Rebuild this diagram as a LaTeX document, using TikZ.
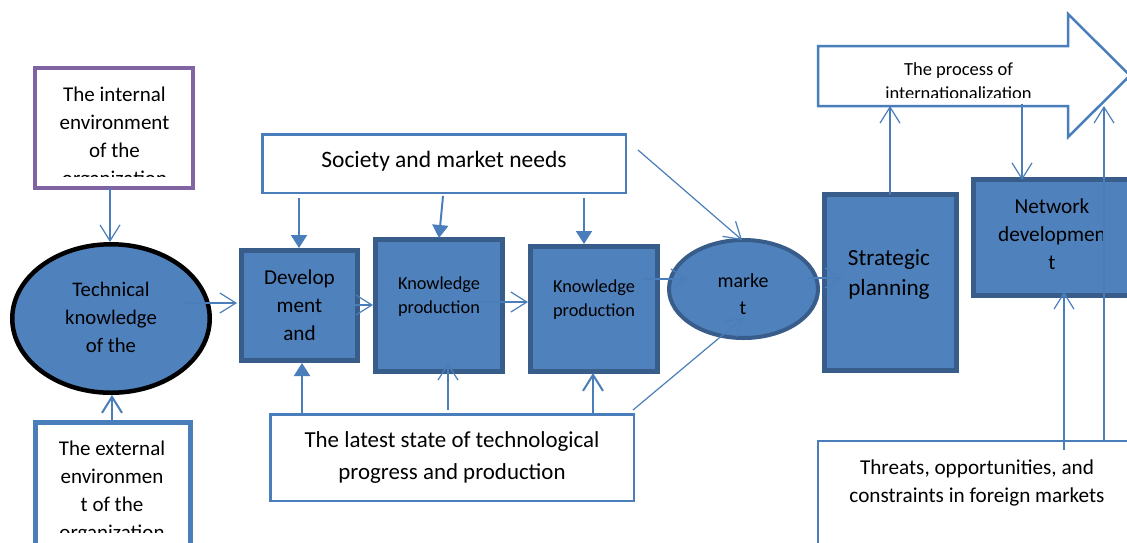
\documentclass[tikz,border=0pt]{standalone}
\usepackage{fontspec}
\setmainfont{Carlito}
\usetikzlibrary{arrows.meta,shapes.geometric,calc}
\definecolor{fillblue}{HTML}{4F81BD}
\definecolor{darkblue}{HTML}{385D8A}
\definecolor{lineblue}{HTML}{4A7EBB}
\definecolor{mypurple}{HTML}{8064A2}
\begin{document}
\begin{tikzpicture}[x=1pt,y=-1pt,
  solidbox/.style={draw=darkblue,line width=5pt,fill=fillblue,inner sep=0,outer sep=0},
  whitebox/.style={draw=lineblue,line width=2.5pt,fill=white,inner sep=0,outer sep=0},
  lbl/.style={inner sep=0,align=center,text=black},
  conn/.style={draw=lineblue,line width=1.2pt},
  openhead/.style={conn,-{Straight Barb[length=16pt,width=20pt]}},
  openheadthick/.style={draw=lineblue,line width=2pt,-{Straight Barb[length=16pt,width=20pt]}},
  filledhead/.style={draw=lineblue,line width=2pt,-{Triangle[length=13pt,width=16pt]}},
]
\useasboundingbox (0,0) rectangle (1127,542);
\fill[white] (0,0) rectangle (1127,542);

% left column
\node[draw=mypurple,line width=4pt,fill=white,minimum width=158pt,minimum height=120pt,inner sep=0,outer sep=0] (internal) at (114,128) {};
\begin{scope}
\clip (38,70) rectangle (190,176);
\node[lbl,font=\fontsize{21}{28}\selectfont] (internaltext) at (114.5,138) {The internal\\environment\\of the\\organization};
\end{scope}

\node[ellipse,draw=black,line width=4.5pt,fill=fillblue,minimum width=197.5pt,minimum height=148.5pt,inner sep=0,outer sep=0] (tech) at (111,318.5) {};
\node[lbl,font=\fontsize{20.7}{28}\selectfont] (techtext) at (111,317) {Technical\\knowledge\\of the};

\node[draw=lineblue,line width=5pt,fill=white,minimum width=155pt,minimum height=137.5pt,inner sep=0,outer sep=0] (external) at (113,491.25) {};
\begin{scope}
\clip (38,425) rectangle (188,532);
\node[lbl,font=\fontsize{21}{28}\selectfont] (externaltext) at (112,492) {The external\\environmen\\t of the\\organization};
\end{scope}

% middle
\node[whitebox,minimum width=363.5pt,minimum height=58.5pt] (society) at (444,163.5) {};
\node[lbl,font=\fontsize{23.5}{30}\selectfont] (societytext) at (444,161) {Society and market needs};

\node[whitebox,minimum width=363.5pt,minimum height=86.5pt] (latest) at (452,457.5) {};
\node[lbl,font=\fontsize{22.9}{32}\selectfont] (latesttext) at (452,458) {The latest state of technological\\progress and production};

\node[solidbox,minimum width=116pt,minimum height=110pt] (dev) at (299.5,305.5) {};
\node[lbl,font=\fontsize{21.2}{28}\selectfont] (devtext) at (299.5,305) {Develop\\ment\\and};

\node[solidbox,minimum width=127pt,minimum height=132pt] (k1) at (439,305.5) {};
\node[lbl,font=\fontsize{18.3}{24}\selectfont] (k1text) at (439,297) {Knowledge\\production};

\node[solidbox,minimum width=127pt,minimum height=125pt] (k2) at (594,309) {};
\node[lbl,font=\fontsize{18.3}{24}\selectfont] (k2text) at (594,299.5) {Knowledge\\production};

\node[ellipse,draw=darkblue,line width=4pt,fill=fillblue,minimum width=149pt,minimum height=98pt,inner sep=0,outer sep=0] (market) at (743.5,289) {};
\node[lbl,font=\fontsize{20}{27}\selectfont] (markettext) at (743,294) {marke\\t};

% right
\node[solidbox,minimum width=132pt,minimum height=176pt] (strat) at (890.5,282.5) {};
\node[lbl,font=\fontsize{23.2}{30}\selectfont] (strattext) at (889,275) {Strategic\\planning};

\node[solidbox,minimum width=166.5pt,minimum height=116pt] (net) at (1056.75,237.5) {};
\node[lbl,font=\fontsize{21.3}{28}\selectfont] (nettext) at (1052,234) {Network\\developmen\\t};

\draw[draw=lineblue,line width=2.5pt,fill=white,line join=miter]
  (818,46) -- (1068,46) -- (1068,14) -- (1130,75.5) -- (1068,137) -- (1068,106) -- (818,106) -- cycle;
\begin{scope}
\clip (822,50) rectangle (1066,97);
\node[lbl,font=\fontsize{18.5}{24}\selectfont] (proctext) at (958.5,81) {The process of\\internationalization};
\end{scope}

\node[whitebox,minimum width=321.75pt,minimum height=118.75pt] (threats) at (979,500.6) {};
\node[lbl,font=\fontsize{21.2}{28}\selectfont] (threatstext) at (977,483) {Threats, opportunities, and\\constraints in foreign markets};

% connectors
\draw[openhead] (110,0 |- internal.south) -- (110,242);
\draw[openheadthick] (112,0 |- external.north) -- (112,395);
\coordinate (techout) at (185,303);
\draw[openhead] (techout) -- (237,303);
\coordinate (devout) at (355,305);
\draw[openhead] (devout) -- (373,305);
\coordinate (k1out) at (475,302);
\draw[openhead] (k1out) -- (528,302);
\coordinate (k2out) at (642,279);
\coordinate (marketin) at (688,279);
\draw[openhead] (k2out) -- (marketin);

\draw[filledhead] (299,198) -- (299,248);
\draw[filledhead] (443,196) -- (439,238);
\draw[filledhead] (584,198) -- (584,244);

\draw[filledhead] (302,0 |- latest.north) -- (302,363);
\draw[openhead] (448,410) -- (448,363);
\draw[openheadthick] (593,0 |- latest.north) -- (593,373);
\coordinate (latestout) at (633,410);
\coordinate (markettop) at (742,240);
\coordinate (marketlow) at (743,318);
\draw[openhead] (latestout) -- (marketlow);
\coordinate (societyout) at (638,150);
\draw[openhead] (societyout) -- (markettop);

\coordinate (marketout) at (808,278);
\draw[openhead] (marketout) -- (842,278);
\draw[openhead] (890,0 |- strat.north) -- (890,106);
\draw[openhead] (1022,104) -- (1022,180);
\draw[openhead] (1104,0 |- threats.north) -- (1104,106);
\draw[openhead] (1064,450) -- (1064,292);
\end{tikzpicture}
\end{document}
